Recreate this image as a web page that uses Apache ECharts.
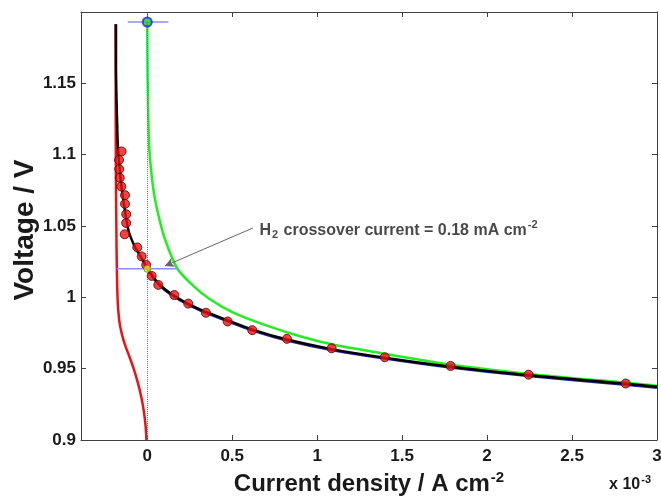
<!DOCTYPE html>
<html>
<head>
<meta charset="utf-8">
<script src="https://cdn.jsdelivr.net/npm/echarts@6/dist/echarts.min.js"></script>
<style>html,body{margin:0;padding:0;background:#fff;}#c{width:661px;height:498px;}</style>
</head>
<body>
<div id="c"></div>
<script>
// x in units of 1e-3 A cm^-2, y in V
var xTicks = [0, 0.5, 1, 1.5, 2, 2.5, 3];
var measured = [
  [-0.151,1.1023],[-0.166,1.0963],[-0.165,1.0899],[-0.162,1.0838],[-0.153,1.0777],
  [-0.131,1.0716],[-0.131,1.0655],[-0.124,1.0582],[-0.124,1.0521],[-0.133,1.0442],
  [-0.059,1.0350],[-0.033,1.0287],[-0.006,1.0227],[0.026,1.0150],[0.065,1.0087],
  [0.159,1.0016],[0.241,0.9956],[0.345,0.9892],[0.473,0.9831],[0.618,0.9770],
  [0.822,0.9709],[1.085,0.9643],[1.398,0.9580],[1.785,0.9519],[2.244,0.9458],[2.816,0.9396]
];
var fitCurve = [
  [-0.184,1.1915],[-0.184,1.1629],[-0.176,1.1162],[-0.172,1.1042],[-0.155,1.0810],
  [-0.127,1.0573],[-0.108,1.0458],[-0.072,1.0352],[-0.037,1.0282],[0.004,1.0197],
  [0.045,1.0127],[0.104,1.0056],[0.192,0.9986],[0.310,0.9915],[0.475,0.9838],
  [0.634,0.9768],[0.822,0.9704],[1.086,0.9637],[1.398,0.9577],[1.786,0.9514],
  [2.245,0.9454],[2.816,0.9394],[3.0,0.9373]
];
var positiveFit = [
  [0.004,1.0190],[0.045,1.0121],[0.104,1.0050],[0.192,0.9980],[0.310,0.9909],[0.475,0.9832],
  [0.634,0.9762],[0.822,0.9698],[1.086,0.9631],[1.398,0.9571],[1.786,0.9508],
  [2.245,0.9448],[2.816,0.9388],[3.0,0.9367]
];
var cathodicCurve = [
  [-0.187,1.1915],[-0.186,1.1500],[-0.185,1.1000],[-0.182,1.0500],[-0.179,1.0200],
  [-0.175,1.0000],[-0.170,0.9900],[-0.160,0.9800],[-0.140,0.9700],[-0.110,0.9600],
  [-0.080,0.9500],[-0.055,0.9400],[-0.035,0.9300],[-0.020,0.9200],[-0.010,0.9100],
  [-0.005,0.9000]
];
var anodicCurve = [
  [0,1.193],[0.001,1.1676],[0.004,1.1394],[0.012,1.1042],[0.028,1.0831],[0.045,1.0690],
  [0.071,1.0549],[0.104,1.0408],[0.176,1.0204],[0.271,1.0080],[0.369,0.9986],
  [0.506,0.9892],[0.682,0.9810],[0.898,0.9727],[1.092,0.9669],[1.369,0.9610],
  [1.604,0.9562],[1.786,0.9527],[2.245,0.9463],[2.816,0.9401],[3.0,0.9381]
];
var ocvPoint = [[0,1.193]];
var ocvBar = [[-0.115,1.193],[0.124,1.193]];
var crossoverPoint = [[0,1.02]];
var crossoverBar = [[-0.18,1.02],[0.175,1.02]];
var arrowFrom = [0.622,1.0486];
var arrowTo = [0.104,1.022];
var annotationAt = [[0.660,1.0470]];

var chart = echarts.init(document.getElementById('c'));
var FF = 'Liberation Sans, Arial, sans-serif';
var TC = '#1a1a1a';
chart.setOption({
  animation:false,
  backgroundColor:'#fff',
  grid:{left:81,right:4,top:12,bottom:58,containLabel:false,outerBoundsMode:'none'},
  xAxis:[{
    type:'value', min:-0.39, max:3,
    axisLine:{show:true,onZero:false,lineStyle:{color:'#404040',width:1}},
    axisTick:{show:true,inside:true,length:5,customValues:xTicks,lineStyle:{color:'#404040'}},
    axisLabel:{customValues:xTicks,fontSize:17,margin:8,fontFamily:FF,fontWeight:'bold',color:TC},
    splitLine:{show:false},
    name:'{a|Current density / A cm}{s|-2}',
    nameLocation:'middle', nameGap:30, nameMoveOverlap:false,
    nameTextStyle:{rich:{
      a:{fontSize:24,fontFamily:FF,fontWeight:'bold',color:TC,verticalAlign:'bottom'},
      s:{fontSize:15,fontFamily:FF,fontWeight:'bold',color:TC,verticalAlign:'top',padding:[0,0,11,1]}
    }}
  },{
    type:'value', min:-0.39, max:3, position:'top',
    axisLine:{show:true,onZero:false,lineStyle:{color:'#404040',width:1}},
    axisTick:{show:true,inside:true,length:5,customValues:xTicks,lineStyle:{color:'#404040'}},
    axisLabel:{show:false}, splitLine:{show:false}
  }],
  yAxis:[{
    type:'value', min:0.9, max:1.2, interval:0.05,
    axisLine:{show:true,onZero:false,lineStyle:{color:'#404040',width:1}},
    axisTick:{show:true,inside:true,length:5,lineStyle:{color:'#404040'}},
    axisLabel:{fontSize:17,margin:5,fontFamily:FF,fontWeight:'bold',color:TC,
      formatter:function(v){return v>1.19?'':String(+v.toFixed(2));}},
    splitLine:{show:false},
    name:'Voltage / V', nameLocation:'middle', nameGap:42, nameMoveOverlap:false,
    nameTextStyle:{fontSize:28,fontFamily:FF,fontWeight:'bold',color:TC,padding:[0,8,0,0]}
  },{
    type:'value', min:0.9, max:1.2, interval:0.05, position:'right',
    axisLine:{show:true,onZero:false,lineStyle:{color:'#404040',width:1}},
    axisTick:{show:true,inside:true,length:5,lineStyle:{color:'#404040'}},
    axisLabel:{show:false}, splitLine:{show:false}
  }],
  graphic:[{
    type:'text', right:10, bottom:5,
    style:{text:'{a|x 10}{s|-3}',
      rich:{
        a:{fontSize:16,fontFamily:FF,fontWeight:'bold',fill:TC,verticalAlign:'bottom'},
        s:{fontSize:11,fontFamily:FF,fontWeight:'bold',fill:TC,verticalAlign:'top',padding:[0,0,8,1]}
      }}
  }],
  series:[
    {type:'line',data:anodicCurve,showSymbol:false,smooth:0.3,z:2,
     lineStyle:{color:'#22ee22',width:2.5},
     markLine:{silent:true,symbol:['none','none'],label:{show:false},
       lineStyle:{type:'dotted',color:'#777',width:1},
       data:[{xAxis:0}]}},
    {type:'line',data:cathodicCurve,showSymbol:false,smooth:0.5,z:3,
     lineStyle:{color:'#ee1111',width:2.5}},
    {type:'line',data:crossoverBar,showSymbol:false,z:3,
     lineStyle:{color:'#8c8cff',width:1.5}},
    {type:'line',data:ocvBar,showSymbol:false,z:3,
     lineStyle:{color:'#8c8cff',width:1.5}},
    {type:'line',data:positiveFit,showSymbol:false,smooth:0.3,z:4,
     lineStyle:{color:'#24248c',width:2.5}},
    {type:'line',data:fitCurve,showSymbol:false,smooth:0.3,z:5,
     lineStyle:{color:'#000',width:2.5},
     markLine:{silent:true,symbol:['none','arrow'],symbolSize:[7,9],label:{show:false},
       lineStyle:{type:'solid',color:'#666',width:1},
       data:[[{coord:arrowFrom,symbol:'none'},{coord:arrowTo,symbol:'arrow',itemStyle:{color:'#222'}}]]}},
    {type:'scatter',data:measured,symbol:'circle',symbolSize:9,z:6,
     itemStyle:{color:'#ee1111',borderColor:'#5a0000',borderWidth:1}},
    {type:'scatter',data:crossoverPoint,symbol:'circle',symbolSize:7,z:7,
     itemStyle:{color:'#e8e820',borderColor:'#808000',borderWidth:1}},
    {type:'scatter',data:ocvPoint,symbol:'circle',symbolSize:9,z:7,
     itemStyle:{color:'#22cc22',borderColor:'#2222ff',borderWidth:2}},
    {type:'scatter',data:annotationAt,symbolSize:0,z:8,
     label:{show:true,position:'right',distance:0,
       formatter:'{a|H}{b|2}{a| crossover current = 0.18 mA cm}{c|-2}',
       rich:{
         a:{fontSize:16,fontFamily:FF,fontWeight:'bold',color:TC,verticalAlign:'middle'},
         b:{fontSize:11,fontFamily:FF,fontWeight:'bold',color:TC,verticalAlign:'bottom',padding:[10,1,0,1]},
         c:{fontSize:11,fontFamily:FF,fontWeight:'bold',color:TC,verticalAlign:'top',padding:[0,0,10,1]}
       }}}
  ]
});
</script>
</body>
</html>
